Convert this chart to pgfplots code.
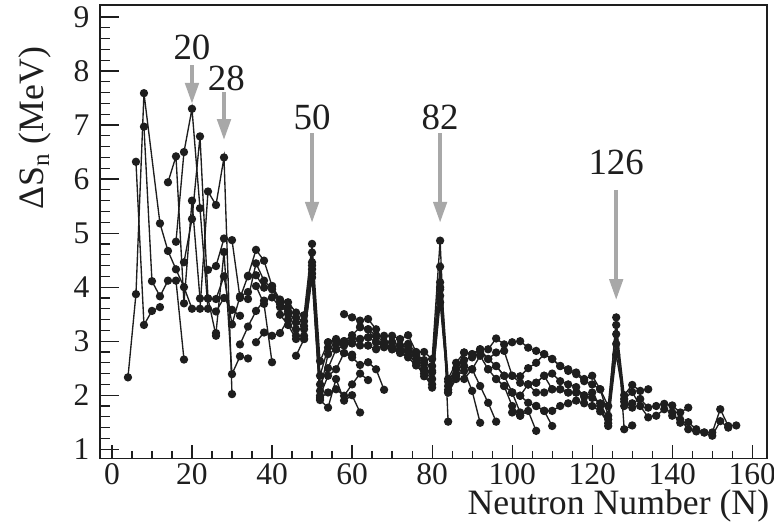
\documentclass[border=0pt]{standalone}
\usepackage{fontspec}
\setmainfont{Liberation Serif}
\usepackage{pgfplots}
\pgfplotsset{compat=1.18}
\usetikzlibrary{arrows.meta}
\definecolor{ink}{RGB}{30,30,30}
\definecolor{arrowgray}{RGB}{168,168,168}
\tikzset{
  chain/.style={ink, line width=0.45pt, mark=*, mark size=1.15pt,
    mark options={fill=ink, draw=ink, solid}},
  magic/.style={arrowgray, line width=1.35pt, -{Triangle[width=4.4pt,length=7pt]}},
  magiclabel/.style={font=\fontsize{12.3}{14}\selectfont, text=ink},
}
\begin{document}
\begin{tikzpicture}
\begin{axis}[
  scale only axis, width=222.3pt, height=151pt,
  xmin=-3, xmax=163.7, ymin=0.833, ymax=9.22,
  xtick={0,20,...,160}, ytick={1,...,9},
  minor x tick num=3, minor y tick num=4,
  xtick pos=left, ytick pos=left,
  tick align=inside,
  major tick length=6.5pt, minor tick length=3.3pt,
  xtick style={/pgfplots/major tick length=4.3pt, /pgfplots/minor tick length=2.5pt},
  axis line style={ink, line width=0.45pt},
  tick style={ink, line width=0.4pt},
  /pgf/number format/assume math mode=true,
  tick label style={font=\fontsize{10.5}{12}\selectfont, text=ink},
  xticklabel style={inner sep=0.8pt, yshift=-0.6pt},
  xlabel={Neutron Number (N)},
  ylabel={ΔS\textsubscript{n} (MeV)},
  label style={font=\fontsize{11.9}{13}\selectfont, text=ink},
  xlabel style={inner sep=0pt, at={(axis description cs:1.004,-0.106)}, anchor=east},
  ylabel style={at={(axis description cs:-0.097,0.728)}, anchor=center},
]
% light nuclei
\addplot[chain] coordinates {(4,2.33) (6,3.87) (8,7.59) (12,5.18) (14,4.67) (16,4.33) (18,4.00) (20,3.60)};
\addplot[chain] coordinates {(6,6.32) (8,3.30) (10,3.56) (12,3.63)};
\addplot[chain] coordinates {(8,6.97) (10,4.11) (12,3.83) (14,4.12) (16,4.12) (18,2.66)};
\addplot[chain] coordinates {(14,5.94) (16,6.42) (18,3.70) (20,5.60) (22,3.79) (24,3.79) (26,3.10)};
\addplot[chain] coordinates {(16,4.84) (18,6.50) (20,7.30) (22,5.46) (24,3.60) (26,3.55) (28,3.80) (30,3.58) (32,3.47)};
\addplot[chain] coordinates {(18,4.46) (20,5.26) (22,6.79) (24,3.79) (26,3.78) (28,4.20) (30,3.31) (32,3.83) (34,3.91)};
\addplot[chain] coordinates {(22,3.60) (24,5.77) (26,5.52) (28,6.40) (30,2.02)};
\addplot[chain] coordinates {(26,3.15) (28,4.65) (30,2.39) (32,2.72) (34,2.68)};
% chains through N = 50
\addplot[chain] coordinates {(24,4.32) (26,4.39) (28,4.90) (30,4.87) (32,3.80) (34,4.21) (36,4.69) (38,4.49) (40,4.02) (42,3.77) (44,3.72) (46,3.53) (48,3.48) (50,4.80) (52,2.63) (54,2.98) (56,3.04) (58,3.00) (60,2.96) (62,2.92) (64,2.92)};
\addplot[chain] coordinates {(32,2.94) (34,3.27) (36,3.56) (38,3.75) (40,3.81) (42,3.63) (44,3.55) (46,3.35) (48,3.28) (50,4.46) (52,2.08) (54,2.76) (56,2.85) (58,2.92) (60,2.96) (62,3.04) (64,3.07) (66,2.98)};
\addplot[chain] coordinates {(34,3.78) (36,4.44) (38,4.12) (40,3.96) (42,3.69) (44,3.63) (46,3.44) (48,3.37) (50,4.64) (52,2.36) (54,2.88) (56,2.94) (58,3.00) (60,3.11) (62,3.26) (64,3.22) (66,3.10) (68,2.98) (70,2.98)};
\addplot[chain] coordinates {(34,4.20) (36,4.22) (38,3.99) (40,4.02) (42,3.72) (44,3.50) (46,3.22) (48,3.22) (50,4.33) (52,1.99) (54,2.36) (56,2.48) (58,2.78) (60,2.70) (62,2.56) (64,2.61) (66,2.48) (68,2.10)};
\addplot[chain] coordinates {(36,2.98) (38,3.16) (40,3.10) (42,3.15) (44,3.40) (46,3.10) (48,3.10) (50,4.18) (52,1.91) (54,1.77) (56,2.30) (58,1.90) (60,2.00) (62,1.68)};
\addplot[chain] coordinates {(36,4.02) (38,3.69) (40,2.61)};
\addplot[chain] coordinates {(46,2.73) (48,3.04) (50,4.25) (52,1.95) (54,2.05) (56,2.11) (58,1.99) (60,2.20) (62,2.40) (64,2.28)};
\addplot[chain] coordinates {(42,3.49) (44,3.30) (46,3.04) (48,3.04) (50,4.40) (52,2.20) (54,2.50) (56,2.85) (58,2.78) (60,2.75)};
% chains through N = 82
\addplot[chain] coordinates {(54,2.98) (56,3.00) (58,2.95) (60,3.05) (62,3.04) (64,3.07) (66,3.10) (68,3.10) (70,3.10) (72,3.04) (74,3.11) (76,2.80) (78,2.80) (80,2.67) (82,4.86) (84,1.51)};
\addplot[chain] coordinates {(58,3.50) (60,3.44) (62,3.38) (64,3.41) (66,3.22) (68,2.98) (70,2.98) (72,2.92) (74,2.95) (76,2.79) (78,2.60) (80,2.54) (82,4.38) (84,2.30) (86,2.60) (88,2.79) (90,2.76) (92,2.85) (94,2.67) (96,2.54) (98,2.36) (100,2.05) (102,1.68)};
\addplot[chain] coordinates {(62,3.26) (64,3.22) (66,2.98) (68,2.89) (70,2.85) (72,2.80) (74,2.85) (76,2.73) (78,2.50) (80,2.42) (82,4.09) (84,2.17) (86,2.48) (88,2.54) (90,2.48) (92,2.73) (94,2.48) (96,2.30) (98,2.17) (100,1.80) (102,1.62)};
\addplot[chain] coordinates {(64,2.92) (66,2.85) (68,2.95) (70,2.90) (72,2.85) (74,2.80) (76,2.67) (78,2.45) (80,2.30) (82,3.96) (84,2.05) (86,2.36) (88,2.45) (90,2.08) (92,1.49)};
\addplot[chain] coordinates {(68,2.89) (70,2.85) (72,2.78) (74,2.70) (76,2.55) (78,2.40) (80,2.14) (82,3.84) (84,2.05) (86,2.30) (88,2.30) (90,2.48) (92,2.17) (94,1.86) (96,1.51)};
\addplot[chain] coordinates {(74,2.90) (76,2.75) (78,2.65) (80,2.45) (82,4.00) (84,2.25) (86,2.50) (88,2.65) (90,2.70) (92,2.80) (94,2.67) (96,2.79) (98,2.82) (100,2.36) (102,2.23) (104,2.20) (106,2.23) (108,2.36) (110,2.11) (112,2.11) (114,2.05) (116,2.05)};
\addplot[chain] coordinates {(72,2.92) (74,2.75) (76,2.60) (78,2.35) (80,2.20) (82,3.72) (84,2.10) (86,2.40) (88,2.79) (90,2.76) (92,2.85) (94,2.85) (96,3.05) (98,2.94) (100,2.98) (102,3.00) (104,2.88) (106,2.82) (108,2.76) (110,2.67) (112,2.54) (114,2.48) (116,2.42) (118,2.30) (120,2.36) (122,2.11) (124,1.62) (126,3.44) (128,1.37) (130,1.44)};
% chains through N = 126
\addplot[chain] coordinates {(94,2.48) (96,2.54) (98,2.36) (100,2.36) (102,2.35) (104,2.50) (106,2.60) (108,2.76) (110,2.67) (112,2.54) (114,2.45) (116,2.39) (118,2.26) (120,2.20) (122,2.11) (124,1.80) (126,3.30) (128,2.00) (130,2.19) (132,2.08) (134,2.11)};
\addplot[chain] coordinates {(96,2.30) (98,2.17) (100,2.05) (102,1.99) (104,2.20) (106,2.23) (108,2.36) (110,2.40) (112,2.26) (114,2.20) (116,2.15) (118,1.97) (120,2.05) (122,1.80) (124,1.43) (126,3.13) (128,1.80) (130,1.85) (132,1.93) (134,1.77) (136,1.80) (138,1.84) (140,1.81) (142,1.68) (144,1.77)};
\addplot[chain] coordinates {(100,2.05) (102,1.99) (104,1.86) (106,1.80) (108,1.71) (110,1.43)};
\addplot[chain] coordinates {(100,1.68) (102,1.62) (104,1.71) (106,1.34)};
\addplot[chain] coordinates {(104,2.20) (106,2.05) (108,2.05) (110,2.11) (112,2.11) (114,2.05) (116,2.05) (118,2.00) (120,1.95) (122,1.85) (124,1.55) (126,2.95) (128,1.93) (130,2.06) (132,1.80) (134,1.59) (136,1.62) (138,1.74) (140,1.68) (142,1.49) (144,1.50) (146,1.37) (148,1.31) (150,1.31) (152,1.74) (154,1.43) (156,1.44)};
\addplot[chain] coordinates {(106,1.80) (108,1.71) (110,1.71) (112,1.80) (114,1.85) (116,1.90) (118,1.85) (120,1.80) (122,1.70) (124,1.48) (126,2.75) (128,1.88) (130,1.77)};
\addplot[chain] coordinates {(140,1.62) (142,1.55) (144,1.37) (146,1.33) (148,1.31) (150,1.25) (152,1.52) (154,1.40)};
% magic-number markers
\addplot[magic] coordinates {(20,8.11) (20,7.39)};
\addplot[magic] coordinates {(28,7.61) (28,6.72)};
\addplot[magic] coordinates {(50,6.85) (50,5.19)};
\addplot[magic] coordinates {(82,6.85) (82,5.19)};
\addplot[magic] coordinates {(126,5.80) (126,3.76)};
\node[magiclabel] at (axis cs:20,8.43) {20};
\node[magiclabel] at (axis cs:28.6,7.87) {28};
\node[magiclabel] at (axis cs:50,7.15) {50};
\node[magiclabel] at (axis cs:82,7.15) {82};
\node[magiclabel] at (axis cs:126,6.31) {126};
\end{axis}
\pgfresetboundingbox
\path[use as bounding box] ([xshift=-33.3pt,yshift=-22.3pt]current axis.south west) rectangle ([xshift=2.3pt,yshift=1.7pt]current axis.north east);
\end{tikzpicture}
\end{document}
